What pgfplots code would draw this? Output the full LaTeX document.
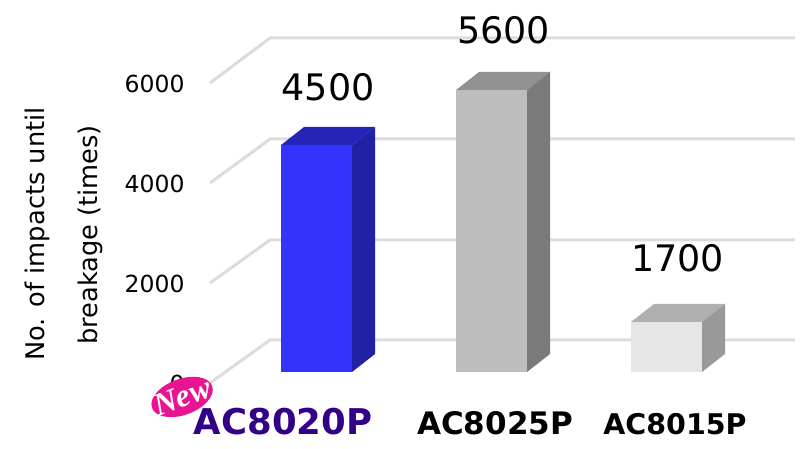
\documentclass[border=0pt]{standalone}
\usepackage{fontspec}
\setmainfont{DejaVu Sans}
\newfontfamily\newfnt{Liberation Serif}
\usepackage{pgfplots}
\pgfplotsset{compat=1.18}
\usetikzlibrary{shapes.geometric}
\definecolor{gridc}{HTML}{DCDCDC}
\definecolor{bluef}{RGB}{51,51,255}
\definecolor{bluet}{RGB}{36,36,184}
\definecolor{blues}{RGB}{33,33,165}
\definecolor{greyf}{RGB}{190,190,190}
\definecolor{greyt}{RGB}{145,145,145}
\definecolor{greys}{RGB}{122,122,122}
\definecolor{lightf}{RGB}{230,230,230}
\definecolor{lightt}{RGB}{176,176,176}
\definecolor{lights}{RGB}{153,153,153}
\definecolor{tagpink}{RGB}{233,20,145}
% axis: x in pixels of the picture, y in chart units (20 units = 1 pixel)
\pgfplotsset{
  gridl/.style={draw=gridc, line width=3pt, no marks},
  front/.style={ybar, bar width=71pt, bar shift=0pt, fill=#1, draw=none},
  face/.style={fill=#1, draw=none, no marks},
}
\begin{document}
\begin{tikzpicture}[x=1pt,y=1pt]
\begin{axis}[
  at={(0,0)}, anchor=south west,
  width=808pt, height=448pt, scale only axis,
  xmin=0, xmax=808, ymin=-1520, ymax=7440,
  clip=false,
  axis line style={draw=none},
  major tick length=0pt,
  axis x line*=bottom, axis y line*=left,
  xtick={283,495,675},
  xticklabels={
    {\fontsize{35.5}{36}\selectfont\bfseries\color[HTML]{330088}AC8020P},
    {\fontsize{31}{31}\selectfont\bfseries AC8025P},
    {\fontsize{28.5}{28.5}\selectfont\bfseries AC8015P}},
  xticklabel style={anchor=base, yshift=13pt},
  ytick={-220,1780,3780,5780},
  yticklabels={0,2000,4000,6000},
  yticklabel style={anchor=east, xshift=188pt, yshift=-1pt, font=\fontsize{23.5}{23.5}\selectfont},
]
% depth gridlines
\addplot[gridl] coordinates {(210,-220) (270,640) (795,640)};
\addplot[gridl] coordinates {(210,1780) (270,2640) (795,2640)};
\addplot[gridl] coordinates {(210,3780) (270,4660) (795,4660)};
\addplot[gridl] coordinates {(210,5780) (270,6680) (795,6680)};
% AC8020P
\addplot[front=bluef] coordinates {(316.5,4540)};
\addplot[face=bluet] coordinates {(281,4540) (352,4540) (375,4900) (304,4900) (281,4540)};
\addplot[face=blues] coordinates {(352,0) (375,360) (375,4900) (352,4540) (352,0)};
% AC8025P
\addplot[front=greyf] coordinates {(491.5,5640)};
\addplot[face=greyt] coordinates {(456,5640) (527,5640) (550,6000) (479,6000) (456,5640)};
\addplot[face=greys] coordinates {(527,0) (550,360) (550,6000) (527,5640) (527,0)};
% AC8015P
\addplot[front=lightf] coordinates {(666.5,1000)};
\addplot[face=lightt] coordinates {(631,1000) (702,1000) (725,1360) (654,1360) (631,1000)};
\addplot[face=lights] coordinates {(702,0) (725,360) (725,1360) (702,1000) (702,0)};
% value labels
\node[anchor=base, font=\fontsize{36.5}{36}\selectfont] at (axis cs:328,5420) {4500};
\node[anchor=base, font=\fontsize{36.5}{36}\selectfont] at (axis cs:503.5,6560) {5600};
\node[anchor=base, font=\fontsize{36.5}{36}\selectfont] at (axis cs:677.5,2000) {1700};
% y axis title, two lines
\node[rotate=90, font=\fontsize{25.7}{27}\selectfont] at (axis cs:37,2760) {No. of impacts until};
\node[rotate=90, font=\fontsize{25.7}{27}\selectfont] at (axis cs:90,2740) {breakage (times)};
\end{axis}
% "New" tag drawn last, over the 0 tick label
\node[ellipse, fill=tagpink, minimum width=64pt, minimum height=36pt, inner sep=0pt, rotate=20] at (182,51) {};
\node[rotate=20, text=white, font=\newfnt\fontsize{32}{32}\selectfont\bfseries\itshape] at (182,51) {New};
\end{tikzpicture}
\end{document}
